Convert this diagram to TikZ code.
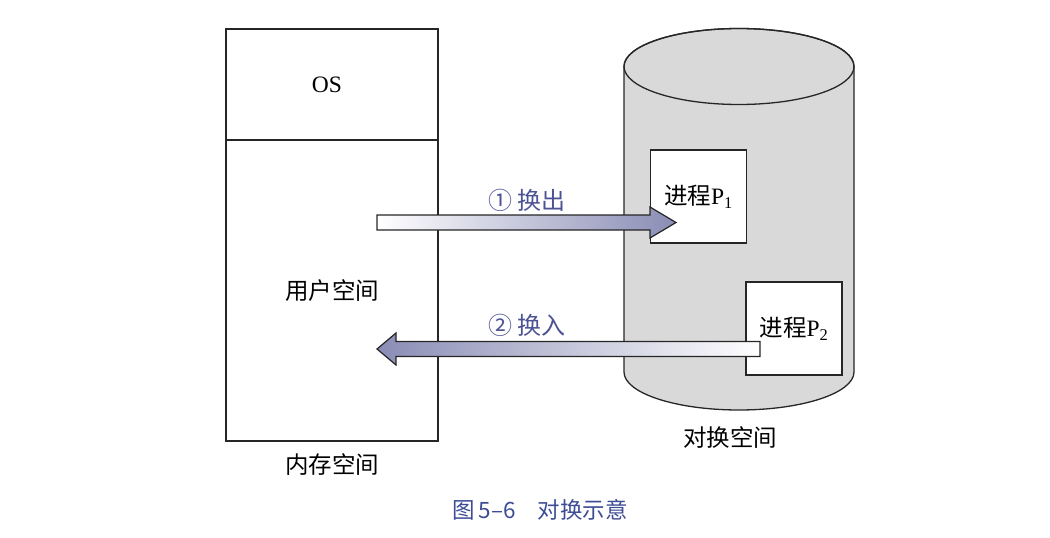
\documentclass[tikz,border=0pt]{standalone}
\usepackage{fontspec}
\setmainfont{Liberation Serif}
\newfontfamily\cjk{Noto Sans CJK SC}

\newlength{\du}
\setlength{\du}{1pt}

\definecolor{labelcolor}{rgb}{0.300000, 0.320000, 0.580000}
\definecolor{captioncolor}{rgb}{0.240000, 0.300000, 0.580000}
\definecolor{arrowdark}{rgb}{0.540000, 0.550000, 0.710000}
\definecolor{diskgray}{rgb}{0.850000, 0.850000, 0.850000}
\definecolor{dialinecolor}{rgb}{0.150000, 0.150000, 0.150000}

\tikzset{
  membox/.style={draw=dialinecolor, line width=1.3\du, minimum width=212\du, inner sep=0pt},
  procbox/.style={draw=dialinecolor, fill=white, line width=1.3\du, minimum width=96\du, minimum height=93\du, inner sep=0pt},
  txt/.style={font=\fontsize{23.5\du}{28\du}\selectfont},
  swaparrow/.style={draw=dialinecolor, line width=1.2\du, line join=miter},
}

\begin{document}
\begin{tikzpicture}
\pgftransformxscale{1.000000}
\pgftransformyscale{-1.000000}
\useasboundingbox (0\du,0\du) rectangle (1050\du,538\du);
% memory
\node[membox, minimum height=111\du] (os) at (332\du,84.5\du) {};
\node[txt] (ostext) at (327\du,85\du) {OS};
\node[membox, txt, minimum height=301\du] (user) at (332\du,290.5\du) {\cjk 用户空间};
\node[txt] (memlabel) at (332\du,465\du) {\cjk 内存空间};
% swap disk
\filldraw[fill=diskgray, draw=dialinecolor, line width=1.3\du] (624\du,66.5\du) -- (624\du,372\du) arc[start angle=180, end angle=0, x radius=115\du, y radius=38\du] -- (854\du,66.5\du) arc[start angle=0, end angle=-180, x radius=115\du, y radius=38\du] -- cycle;
\draw[draw=dialinecolor, line width=1.3\du] (739\du,66.5\du) ellipse [x radius=115\du, y radius=38\du];
\node[txt] (disklabel) at (730\du,438\du) {\cjk 对换空间};
\node[procbox, txt] (p1) at (698.5\du,196.5\du) {{\cjk 进程}P\textsubscript{1}};
\node[procbox, txt] (p2) at (794\du,328.5\du) {{\cjk 进程}P\textsubscript{2}};
% swap out
\coordinate (outtail) at (377\du,222.5\du);
\draw[swaparrow, left color=white, right color=arrowdark] (outtail) ++(0\du,-7.5\du) -- ++(273\du,0\du) -- ++(0\du,-8\du) -- ++(26\du,15.5\du) -- ++(-26\du,15.5\du) -- ++(0\du,-8\du) -- ++(-273\du,0\du) -- cycle;
\node[txt, font=\fontsize{24\du}{28\du}\selectfont, text=labelcolor] (outlabel) at (527\du,200\du) {\cjk ① 换出};
% swap in
\coordinate (intail) at (760\du,349\du);
\draw[swaparrow, left color=arrowdark, right color=white] (intail) ++(0\du,-7.5\du) -- ++(-364\du,0\du) -- ++(0\du,-8.5\du) -- ++(-19\du,16\du) -- ++(19\du,16\du) -- ++(0\du,-8.5\du) -- ++(364\du,0\du) -- cycle;
\node[txt, font=\fontsize{24\du}{28\du}\selectfont, text=labelcolor] (inlabel) at (527\du,325\du) {\cjk ② 换入};
% caption
\node[font=\cjk\fontsize{22.5\du}{26\du}\selectfont, text=captioncolor] (caption) at (540\du,510\du) {图\,5–6\hspace{22\du}对换示意};
\end{tikzpicture}
\end{document}
